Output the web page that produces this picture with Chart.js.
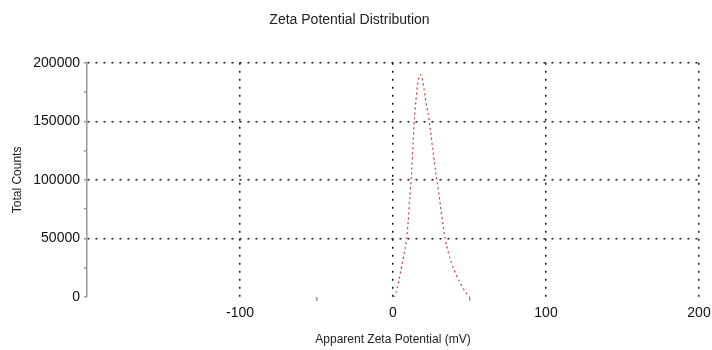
<!DOCTYPE html>
<html>
<head>
<meta charset="utf-8">
<script src="https://cdn.jsdelivr.net/npm/chart.js@4/dist/chart.umd.min.js"></script>
<style>
  html, body { margin: 0; padding: 0; background: #fff; }
  #wrap { width: 712px; height: 350px; }
</style>
</head>
<body>
<div id="wrap"><canvas id="zetaChart" width="712" height="350"></canvas></div>
<script>
// Zeta potential distribution
const zetaMv = [0, 1, 2, 3, 4, 5, 6, 7, 8, 9, 10, 11, 12, 13, 14, 15, 16, 17, 18, 19, 20,
    21, 22, 23, 24, 25, 26, 27, 28, 29, 30, 31, 32, 33, 34, 35, 36, 37, 38, 39, 40,
    41, 42, 43, 44, 45, 46, 47, 48, 49, 50];
const totalCounts = [0, 1000, 4000, 9000, 15000, 22000, 28000, 35000, 42000, 50000, 66000,
    85000, 103000, 128000, 152000, 168000, 180000, 188000, 190000, 187000, 180000,
    171000, 163000, 156000, 147000, 137000, 126000, 116000, 106000, 97000, 88000,
    78000, 68000, 59000, 50000, 44000, 39000, 34000, 30000, 26000, 23000,
    20000, 17000, 14500, 12000, 9500, 7000, 5000, 3000, 1500, 0];

const xMin = -200, xMax = 200;
const yMin = 0, yMax = 200000;

const font = 'Liberation Sans, Arial, Helvetica, sans-serif';
const dotColor = '#1a1a1a';

const points = zetaMv.map((x, i) => ({ x, y: totalCounts[i] }));

new Chart(document.getElementById('zetaChart').getContext('2d'), {
    type: 'line',
    data: {
        datasets: [{
            label: 'Total Counts',
            data: points,
            borderColor: 'rgb(195, 60, 60)',
            borderWidth: 1.2,
            borderDash: [2, 3],
            pointRadius: 0,
            tension: 0.2,
            fill: false
        }]
    },
    options: {
        responsive: false,
        animation: false,
        layout: { padding: { left: 0, right: 13, top: 0, bottom: 0 } },
        plugins: {
            legend: { display: false },
            tooltip: { enabled: false },
            title: {
                display: true,
                text: 'Zeta Potential Distribution',
                color: '#222',
                font: { family: font, size: 14, weight: 'normal' },
                padding: { top: 12, bottom: 34 }
            }
        },
        scales: {
            x: {
                type: 'linear',
                min: xMin,
                max: xMax,
                afterFit: (scale) => {
                    scale.height = 53;
                    scale.paddingLeft = 0;
                    scale.paddingRight = 0;
                },
                ticks: {
                    stepSize: 50,
                    autoSkip: false,
                    maxRotation: 0,
                    padding: 4,
                    color: '#111',
                    font: { family: font, size: 14 },
                    callback: (v) => (v % 100 === 0 && v !== xMin ? v : '')
                },
                grid: {
                    color: (ctx) => (ctx.tick && ctx.tick.value % 100 === 0 && ctx.tick.value !== xMin ? dotColor : 'rgba(0,0,0,0)'),
                    lineWidth: 1.5,
                    drawTicks: true,
                    tickLength: 4,
                    tickColor: (ctx) => (ctx.tick && Math.abs(ctx.tick.value) === 50 ? '#999' : 'rgba(0,0,0,0)'),
                    tickBorderDash: []
                },
                border: { display: false, dash: [2, 6] },
                title: {
                    display: true,
                    text: 'Apparent Zeta Potential (mV)',
                    color: '#222',
                    font: { family: font, size: 12 },
                    padding: { top: 0, bottom: 3 }
                }
            },
            y: {
                type: 'linear',
                min: yMin,
                max: yMax,
                afterFit: (scale) => { scale.width = 87; },
                ticks: {
                    stepSize: 25000,
                    autoSkip: false,
                    padding: 4,
                    color: '#111',
                    font: { family: font, size: 14 },
                    callback: (v) => (v % 50000 === 0 ? v : '')
                },
                grid: {
                    color: (ctx) => (ctx.tick && ctx.tick.value % 50000 === 0 && ctx.tick.value > 0 ? dotColor : 'rgba(0,0,0,0)'),
                    lineWidth: 1.5,
                    drawTicks: true,
                    tickLength: 3,
                    tickColor: '#999',
                    tickBorderDash: []
                },
                border: { display: true, color: '#999', width: 1.5, dash: [2, 6] },
                title: {
                    display: true,
                    text: 'Total Counts',
                    color: '#222',
                    font: { family: font, size: 12 },
                    padding: { top: 10, bottom: 0 }
                }
            }
        }
    }
});
</script>
</body>
</html>
